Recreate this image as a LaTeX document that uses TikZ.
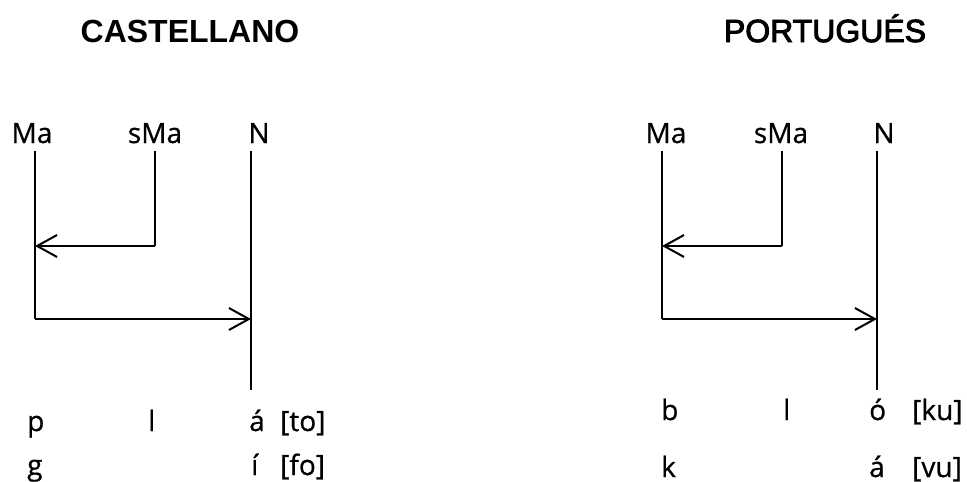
\documentclass[tikz,border=0pt]{standalone}
\usepackage{fontspec}
\setmainfont{Open Sans}[FakeBold=0.7]
\newfontfamily\headfont{Liberation Sans}
\newfontfamily\headmid{Liberation Sans}[FakeBold=3]
\usetikzlibrary{arrows.meta}

\begin{document}
\begin{tikzpicture}[x=1pt,y=-1pt,
  lab/.style={font=\fontsize{28}{30}\selectfont, inner sep=0pt, anchor=base},
  seg/.style={font=\fontsize{28}{30}\selectfont, inner sep=0pt, anchor=base west},
  head/.style={font=\headfont\fontsize{32}{34}\selectfont, inner sep=0pt, anchor=base},
  stem/.style={line width=2pt},
  link/.style={line width=2pt, -{Straight Barb[length=20pt,width=22pt]}}]

\fill[white] (0,0) rectangle (967,482);
\useasboundingbox (0,0) rectangle (967,482);

% titles
\node[head, font=\headfont\bfseries\fontsize{32}{34}\selectfont] (tcas) at (190,42) {CASTELLANO};
\node[head, font=\headmid\fontsize{32}{34}\selectfont] (tpor) at (825,42) {PORTUGUÉS};

% ---- Castellano ----
\node[lab] (lMa)  at (32,143)  {Ma};
\node[lab] (lsMa) at (155,143) {sMa};
\node[lab] (lN)   at (259,143) {N};

\coordinate (lMaT)  at (35,151);
\coordinate (lMaB)  at (35,319);
\coordinate (lsMaT) at (155,151);
\coordinate (lsMaB) at (155,246);
\coordinate (lNT)   at (251,151);
\coordinate (lNB)   at (251,390);

\draw[stem] (lMaT) -- (lMaB);
\draw[stem] (lsMaT) -- (lsMaB);
\draw[stem] (lNT) -- (lNB);
\draw[link] (lsMaB) -- (lMaT |- lsMaB);
\draw[link] (lMaB) -- (lNT |- lMaB);

\node[seg] (lp)  at (27,431)  {p};
\node[seg] (ll)  at (148,431) {l};
\node[seg] (la)  at (249,431) {á};
\node[seg] (lto) at (280,431) {[to]};
\node[seg] (lg)  at (27,475)  {g};
\node[seg] (li)  at (251,475) {í};
\node[seg] (lfo) at (280,475) {[fo]};

% ---- Português ----
\node[lab] (rMa)  at (666,143) {Ma};
\node[lab] (rsMa) at (781,143) {sMa};
\node[lab] (rN)   at (884,143) {N};

\coordinate (rMaT)  at (662,151);
\coordinate (rMaB)  at (662,319);
\coordinate (rsMaT) at (782,151);
\coordinate (rsMaB) at (782,246);
\coordinate (rNT)   at (877,151);
\coordinate (rNB)   at (877,390);

\draw[stem] (rMaT) -- (rMaB);
\draw[stem] (rsMaT) -- (rsMaB);
\draw[stem] (rNT) -- (rNB);
\draw[link] (rsMaB) -- (rMaT |- rsMaB);
\draw[link] (rMaB) -- (rNT |- rMaB);

\node[seg] (rb)  at (661,420) {b};
\node[seg] (rl)  at (783,420) {l};
\node[seg] (ro)  at (869,420) {ó};
\node[seg] (rku) at (912,420) {[ku]};
\node[seg] (rk)  at (661,477) {k};
\node[seg] (ra)  at (869,477) {á};
\node[seg] (rvu) at (912,477) {[vu]};
\end{tikzpicture}
\end{document}
